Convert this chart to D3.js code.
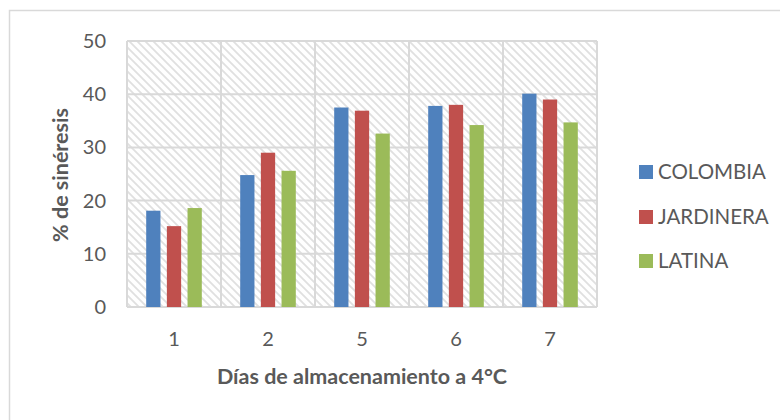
<!DOCTYPE html>
<html><head><meta charset="utf-8">
<script src="https://cdn.jsdelivr.net/npm/d3@7"></script>
<style>body{margin:0;background:#fff}svg{display:block}text{font-family:Lato,"Noto Sans",sans-serif;fill:#595959}</style>
</head><body>
<svg id="c" width="780" height="420"></svg>
<script>
const categories = ["1","2","5","6","7"];
const seriesNames = ["COLOMBIA","JARDINERA","LATINA"];
const colombia = [18.1, 24.8, 37.5, 37.8, 40.1];
const jardinera = [15.2, 29.0, 36.9, 38.0, 39.0];
const latina = [18.6, 25.6, 32.6, 34.2, 34.7];
const yTicks = [0,10,20,30,40,50];
const colors = ["#4F81BD","#C0504D","#9BBB59"];
const seriesValues = [colombia, jardinera, latina];

const svg = d3.select("#c");
const m = {l:127, t:41, r:597, b:307};

svg.append("rect").attr("x",9.5).attr("y",10.5).attr("width",800).attr("height",450)
  .attr("fill","#fff").attr("stroke","#d9d9d9").attr("stroke-width",1.5);

const defs = svg.append("defs");
const pat = defs.append("pattern").attr("id","hatch").attr("patternUnits","userSpaceOnUse")
  .attr("width",8).attr("height",8);
pat.append("rect").attr("width",8).attr("height",8).attr("fill","#fff");
pat.append("path").attr("d","M-2,-2L10,10M-2,6L2,10M6,-2L10,2").attr("stroke","#e0e0e0").attr("stroke-width",1.8);

const x = d3.scaleBand().domain(categories).range([m.l,m.r]);
const y = d3.scaleLinear().domain([0,50]).range([m.b,m.t]);
const xs = d3.scaleBand().domain(seriesNames).range([0,55.6]).paddingInner(0.31);

svg.append("rect").attr("x",m.l).attr("y",m.t).attr("width",m.r-m.l).attr("height",m.b-m.t).attr("fill","url(#hatch)");

// gridlines
svg.append("g").selectAll("line").data(yTicks).join("line")
  .attr("x1",m.l).attr("x2",m.r).attr("y1",d=>y(d)).attr("y2",d=>y(d))
  .attr("stroke","#d9d9d9").attr("stroke-width",2);
svg.append("g").selectAll("line").data(categories.concat(["end"])).join("line")
  .attr("x1",(d,i)=>i<categories.length?x(d):m.r).attr("x2",(d,i)=>i<categories.length?x(d):m.r)
  .attr("y1",m.t).attr("y2",m.b).attr("stroke","#d9d9d9").attr("stroke-width",2);

// bars
seriesNames.forEach((s,si)=>{
  svg.append("g").selectAll("rect").data(seriesValues[si]).join("rect")
    .attr("x",(d,i)=>x(categories[i]) + x.bandwidth()/2 - 27.8 + xs(s))
    .attr("width",xs.bandwidth())
    .attr("y",d=>y(d)).attr("height",d=>y(0)-y(d))
    .attr("fill",colors[si]);
});

// y tick labels
svg.append("g").selectAll("text").data(yTicks).join("text")
  .attr("x",106).attr("y",d=>y(d)).attr("dy","0.35em").attr("text-anchor","end")
  .attr("font-size",20).text(d=>d);
// x tick labels
svg.append("g").selectAll("text").data(categories).join("text")
  .attr("x",d=>x(d)+x.bandwidth()/2).attr("y",339).attr("dy","0.35em").attr("text-anchor","middle")
  .attr("font-size",20).text(d=>d);

// axis titles
svg.append("text").attr("transform","translate(60,175) rotate(-90)").attr("dy","0.35em")
  .attr("text-anchor","middle").attr("font-size",21.5).attr("font-weight","bold").text("% de sinéresis");
svg.append("text").attr("x",362).attr("y",376).attr("dy","0.35em")
  .attr("text-anchor","middle").attr("font-size",21.5).attr("font-weight","bold").text("Días de almacenamiento a 4°C");

// legend
const ly = [172, 217, 261];
const lg = svg.append("g").selectAll("g").data(seriesNames).join("g");
lg.append("rect").attr("x",639).attr("y",(d,i)=>ly[i]-7).attr("width",14).attr("height",14).attr("fill",(d,i)=>colors[i]);
lg.append("text").attr("x",658).attr("y",(d,i)=>ly[i]).attr("dy","0.35em").attr("font-size",20.5).text(d=>d);
</script>
</body></html>
